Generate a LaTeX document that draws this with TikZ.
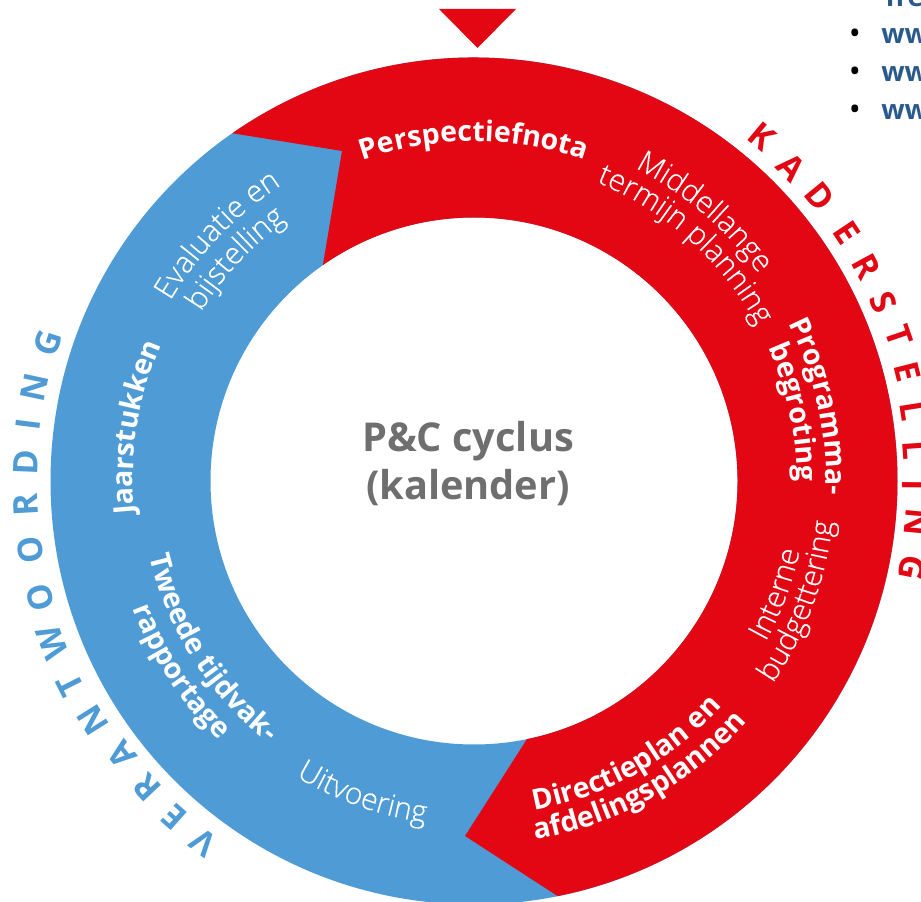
\documentclass[tikz,border=0pt]{standalone}
\usepackage{fontspec}
\setmainfont{Open Sans}
\newfontfamily\oslight[FakeBold=0.4]{Open Sans Light}
\usetikzlibrary{decorations.text,calc}
\definecolor{ringred}{HTML}{E30613}
\definecolor{ringblue}{HTML}{4F9BD5}
\definecolor{midgrey}{HTML}{706F6F}
\definecolor{linkblue}{HTML}{2A5A8C}
\def\fb{\color{white}\fontsize{21.4}{25}\selectfont\bfseries}
\def\fl{\color{white}\fontsize{22.5}{26}\selectfont\oslight}
% clockwise arc text: radius, mid angle, format, text
\newcommand\cwtext[4]{%
  \pgfmathsetmacro\sa{#2+70}\pgfmathsetmacro\ea{#2-70}%
  \path[decorate,decoration={text along path,text align=center,text={|#3|#4}}]
    (c) ++(\sa:#1) arc[start angle=\sa,end angle=\ea,radius=#1];}
% counter-clockwise arc text
\newcommand\ccwtext[4]{%
  \pgfmathsetmacro\sa{#2-70}\pgfmathsetmacro\ea{#2+70}%
  \path[decorate,decoration={text along path,text align=center,text={|#3|#4}}]
    (c) ++(\sa:#1) arc[start angle=\sa,end angle=\ea,radius=#1];}
\begin{document}
\begin{tikzpicture}[x=.75pt,y=.75pt,
  ringletter/.style={font=\fontsize{25.5}{28}\selectfont\bfseries,inner sep=0pt,anchor=center},
  linktext/.style={font=\fontsize{20.5}{24}\selectfont\bfseries,text=linkblue,inner sep=0pt,anchor=base west},
  bullettext/.style={font=\fontsize{24}{28}\selectfont,inner sep=0pt,anchor=center}]
\useasboundingbox (0,0) rectangle (921,902);
\clip (0,0) rectangle (921,902);
\coordinate (c) at (474,421);
% ring
\fill[ringblue,even odd rule] (c) circle[radius=423.5] (c) circle[radius=263.5];
\fill[ringred] ($(c)+(124.8:423.5)$) arc[start angle=124.8,end angle=-78.6,radius=423.5]
  -- (465,66) -- ($(c)+(-78.4:263.5)$) arc[start angle=-78.4,end angle=125,radius=263.5]
  -- (342,751) -- cycle;
% top marker
\fill[ringred] (439,893) -- (516,893) -- (477.5,854) -- cycle;
% centre
\node[font=\fontsize{29.8}{36}\selectfont\bfseries,text=midgrey,align=center,inner sep=0pt,anchor=center] (centre) at (468,438) {P\&C cyclus\\(kalender)};
% ring labels
\cwtext{339.5}{90}{\fb}{Perspectiefnota}
\cwtext{352}{49.4}{\fl}{Middellange}
\cwtext{323}{48.2}{\fl}{termijn planning}
\cwtext{352}{12.2}{\fb}{Programma-}
\cwtext{323}{12.1}{\fb}{begroting}
\ccwtext{333}{-20.5}{\fl}{Interne}
\ccwtext{361}{-20.3}{\fl}{budgettering}
\ccwtext{335}{-60.9}{\fb}{Directieplan en}
\ccwtext{364}{-60.8}{\fb}{afdelingsplannen}
\ccwtext{345}{250.4}{\fl}{Uitvoering}
\cwtext{341}{171}{\fb}{Jaarstukken}
\cwtext{353}{136.2}{\fl}{Evaluatie en}
\cwtext{321}{137}{\fl}{bijstelling}
\ccwtext{333}{212.5}{\fb}{Tweede tijdvak-}
\ccwtext{364}{213}{\fb}{rapportage}
% outer letters
\foreach \l/\a/\r [count=\i] in {K/50.1/449,A/44.7/446,D/39.4/447.5,E/33.7/448,R/28.6/447.5,S/23.6/447,T/18.9/449,E/14.1/447.5,L/9/444,L/4/442,I/-0.5/441,N/-5.4/445,G/-11.2/446.5}
  \node[ringletter,text=ringred,rotate=\a-90] (kad\i) at ($(c)+(\a:\r)$) {\l};
\foreach \l/\a/\r [count=\i] in {V/233.2/452,E/228.3/450,R/223.2/448.5,A/217.9/446,N/212.1/450,T/206.8/452,W/201/452,O/195/449,O/188.8/449,R/183.1/449,D/177.6/449,I/172.8/449.5,N/168/449,G/162.05/448}
  \node[ringletter,text=ringblue,rotate=\a-90] (ver\i) at ($(c)+(\a:\r)$) {\l};
% cut-off list at top right
\node[linktext] (l0) at (885,895) {fre};
\node[linktext] (l1) at (881,858.5) {www};
\node[linktext] (l2) at (881,820.5) {www};
\node[linktext] (l3) at (881,782.5) {www};
\node[bullettext] (b1) at (855,865) {•};
\node[bullettext] (b2) at (855,827) {•};
\node[bullettext] (b3) at (855,789) {•};
\end{tikzpicture}
\end{document}
